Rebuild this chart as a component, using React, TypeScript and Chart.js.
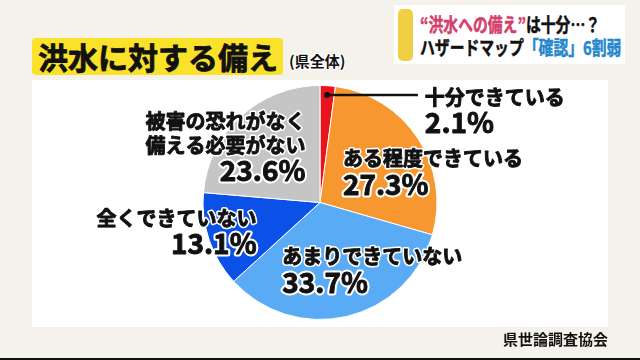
import React, { useEffect, useRef } from "react";
import { Chart, registerables } from "chart.js";

Chart.register(...registerables);

// ---- data ----
const categories = [
  "十分できている",
  "ある程度できている",
  "あまりできていない",
  "全くできていない",
  "被害の恐れがなく備える必要がない",
];
const values = [2.1, 27.3, 33.7, 13.1, 23.6];
const labelLines = [
  ["十分できている"],
  ["ある程度できている"],
  ["あまりできていない"],
  ["全くできていない"],
  ["被害の恐れがなく", "備える必要がない"],
];

// ---- styles ----
const colors = ["#e8131b", "#f7972f", "#59abf5", "#0b50e7", "#c5c5c5"];
// label placement relative to slice centroid: align, dx, dy (first line centre), leader
const labelLayout = [
  { align: "left", dx: 101, dy: -48, leader: true },
  { align: "left", dx: -26, dy: -12, leader: false },
  { align: "left", dx: -51, dy: -3, leader: false },
  { align: "right", dx: -8, dy: -3, leader: false },
  { align: "right", dx: 25, dy: -38, leader: false },
];

const FONT = '"Noto Sans CJK JP", "Noto Sans", sans-serif';

function heavyText(ctx: CanvasRenderingContext2D, t: string, x: number, y: number, outline: number) {
  ctx.strokeStyle = "#fff";
  ctx.lineWidth = outline;
  ctx.strokeText(t, x, y);
  ctx.strokeStyle = "#111";
  ctx.lineWidth = 0.9;
  ctx.strokeText(t, x, y);
  ctx.fillText(t, x, y);
}

const labelPlugin = {
  id: "sliceLabels",
  afterDatasetsDraw(chart: any) {
    const ctx = chart.ctx as CanvasRenderingContext2D;
    const meta = chart.getDatasetMeta(0);
    meta.data.forEach((arc: any, i: number) => {
      const p = arc.getProps(["x", "y", "startAngle", "endAngle", "outerRadius"], true);
      const mid = (p.startAngle + p.endAngle) / 2;
      const cx = p.x + Math.cos(mid) * p.outerRadius / 2;
      const cy = p.y + Math.sin(mid) * p.outerRadius / 2;
      const lay = labelLayout[i];
      const ax = cx + lay.dx;
      let y = cy + lay.dy;
      ctx.save();
      if (lay.leader) {
        const dx = p.x + Math.cos(mid) * p.outerRadius * 0.92;
        const dy = p.y + Math.sin(mid) * p.outerRadius * 0.92;
        ctx.strokeStyle = "#111";
        ctx.lineWidth = 2.5;
        ctx.beginPath();
        ctx.moveTo(dx, dy);
        ctx.lineTo(ax - 7, dy);
        ctx.stroke();
        ctx.fillStyle = "#111";
        ctx.beginPath();
        ctx.arc(dx, dy, 3, 0, Math.PI * 2);
        ctx.fill();
        y = dy + 2;
      }
      ctx.textAlign = lay.align as CanvasTextAlign;
      ctx.textBaseline = "middle";
      ctx.lineJoin = "round";
      ctx.fillStyle = "#111";
      ctx.font = `bold 20px ${FONT}`;
      (ctx as any).letterSpacing = "0px";
      labelLines[i].forEach((t, k) => {
        heavyText(ctx, t, ax, y + k * 23.5, 4);
      });
      const py = y + (labelLines[i].length - 1) * 23.5 + 25.5;
      ctx.font = `bold 28px ${FONT}`;
      (ctx as any).letterSpacing = "0px";
      heavyText(ctx, values[i].toFixed(1) + "%", ax, py, 5);
      ctx.restore();
    });
  },
};

function PieChart() {
  const ref = useRef<HTMLCanvasElement | null>(null);
  useEffect(() => {
    if (!ref.current) return;
    const chart = new Chart(ref.current, {
      type: "pie",
      data: {
        labels: categories,
        datasets: [
          {
            data: values,
            backgroundColor: colors,
            borderColor: "#ffffff",
            borderWidth: 1,
          },
        ],
      },
      options: {
        responsive: false,
        maintainAspectRatio: false,
        animation: false,
        layout: { padding: { top: 85, bottom: 40, left: 0, right: 0 } },
        plugins: {
          legend: { display: false },
          tooltip: { enabled: false },
        },
      },
      plugins: [labelPlugin],
    });
    return () => chart.destroy();
  }, []);
  return (
    <canvas
      ref={ref}
      width={640}
      height={360}
      style={{ position: "absolute", left: 0, top: 0, width: 640, height: 360 }}
    />
  );
}

export default function App() {
  const outline =
    "1px 0 0 #fff, -1px 0 0 #fff, 0 1px 0 #fff, 0 -1px 0 #fff, 1px 1px 0 #fff, -1px -1px 0 #fff, 1px -1px 0 #fff, -1px 1px 0 #fff";
  return (
    <div
      style={{
        position: "fixed",
        left: 0,
        top: 0,
        width: 640,
        height: 360,
        overflow: "hidden",
        background: "#f4f2ea",
        fontFamily: FONT,
        fontWeight: 700,
        color: "#111",
      }}
    >
      {/* white panel */}
      <div
        style={{
          position: "absolute",
          left: 32,
          top: 80,
          width: 576,
          height: 247,
          background: "#ffffff",
        }}
      />
      {/* title */}
      <div
        style={{
          position: "absolute",
          left: 32,
          top: 38,
          width: 251,
          height: 37,
          background: "#fbe22a",
          borderRadius: 4,
          display: "flex",
          alignItems: "center",
          paddingLeft: 6,
          boxSizing: "border-box",
          fontSize: 30,
          lineHeight: "37px",
          whiteSpace: "nowrap",
          WebkitTextStroke: "0.8px #111",
        }}
      >
        洪水に対する備え
      </div>
      <div
        style={{
          position: "absolute",
          left: 289,
          top: 52,
          fontSize: 15,
          lineHeight: "18px",
          textShadow: outline,
          whiteSpace: "nowrap",
        }}
      >
        (県全体)
      </div>
      {/* header box */}
      <div
        style={{
          position: "absolute",
          left: 394,
          top: 5,
          width: 231,
          height: 59,
          background: "#ffffff",
        }}
      />
      <div
        style={{
          position: "absolute",
          left: 398,
          top: 9,
          width: 15,
          height: 52,
          background: "#f1cf45",
          borderRadius: 5,
        }}
      />
      <div
        style={{
          position: "absolute",
          left: 420,
          top: 12,
          fontSize: 19,
          lineHeight: "23px",
          whiteSpace: "nowrap",
          transform: "scaleX(0.78)",
          transformOrigin: "left top",
          WebkitTextStroke: "0.5px currentColor",
        }}
      >
        <div>
          <span style={{ color: "#d4406e" }}>“洪水への備え”</span>は十分…？
        </div>
        <div>
          ハザードマップ<span style={{ color: "#2486cc" }}>「確認」6割弱</span>
        </div>
      </div>
      <PieChart />
      {/* source */}
      <div
        style={{
          position: "absolute",
          right: 32,
          top: 330,
          fontSize: 15,
          lineHeight: "18px",
          whiteSpace: "nowrap",
        }}
      >
        県世論調査協会
      </div>
      <div
        style={{
          position: "absolute",
          left: 0,
          top: 358,
          width: 640,
          height: 2,
          background: "#111",
        }}
      />
    </div>
  );
}
